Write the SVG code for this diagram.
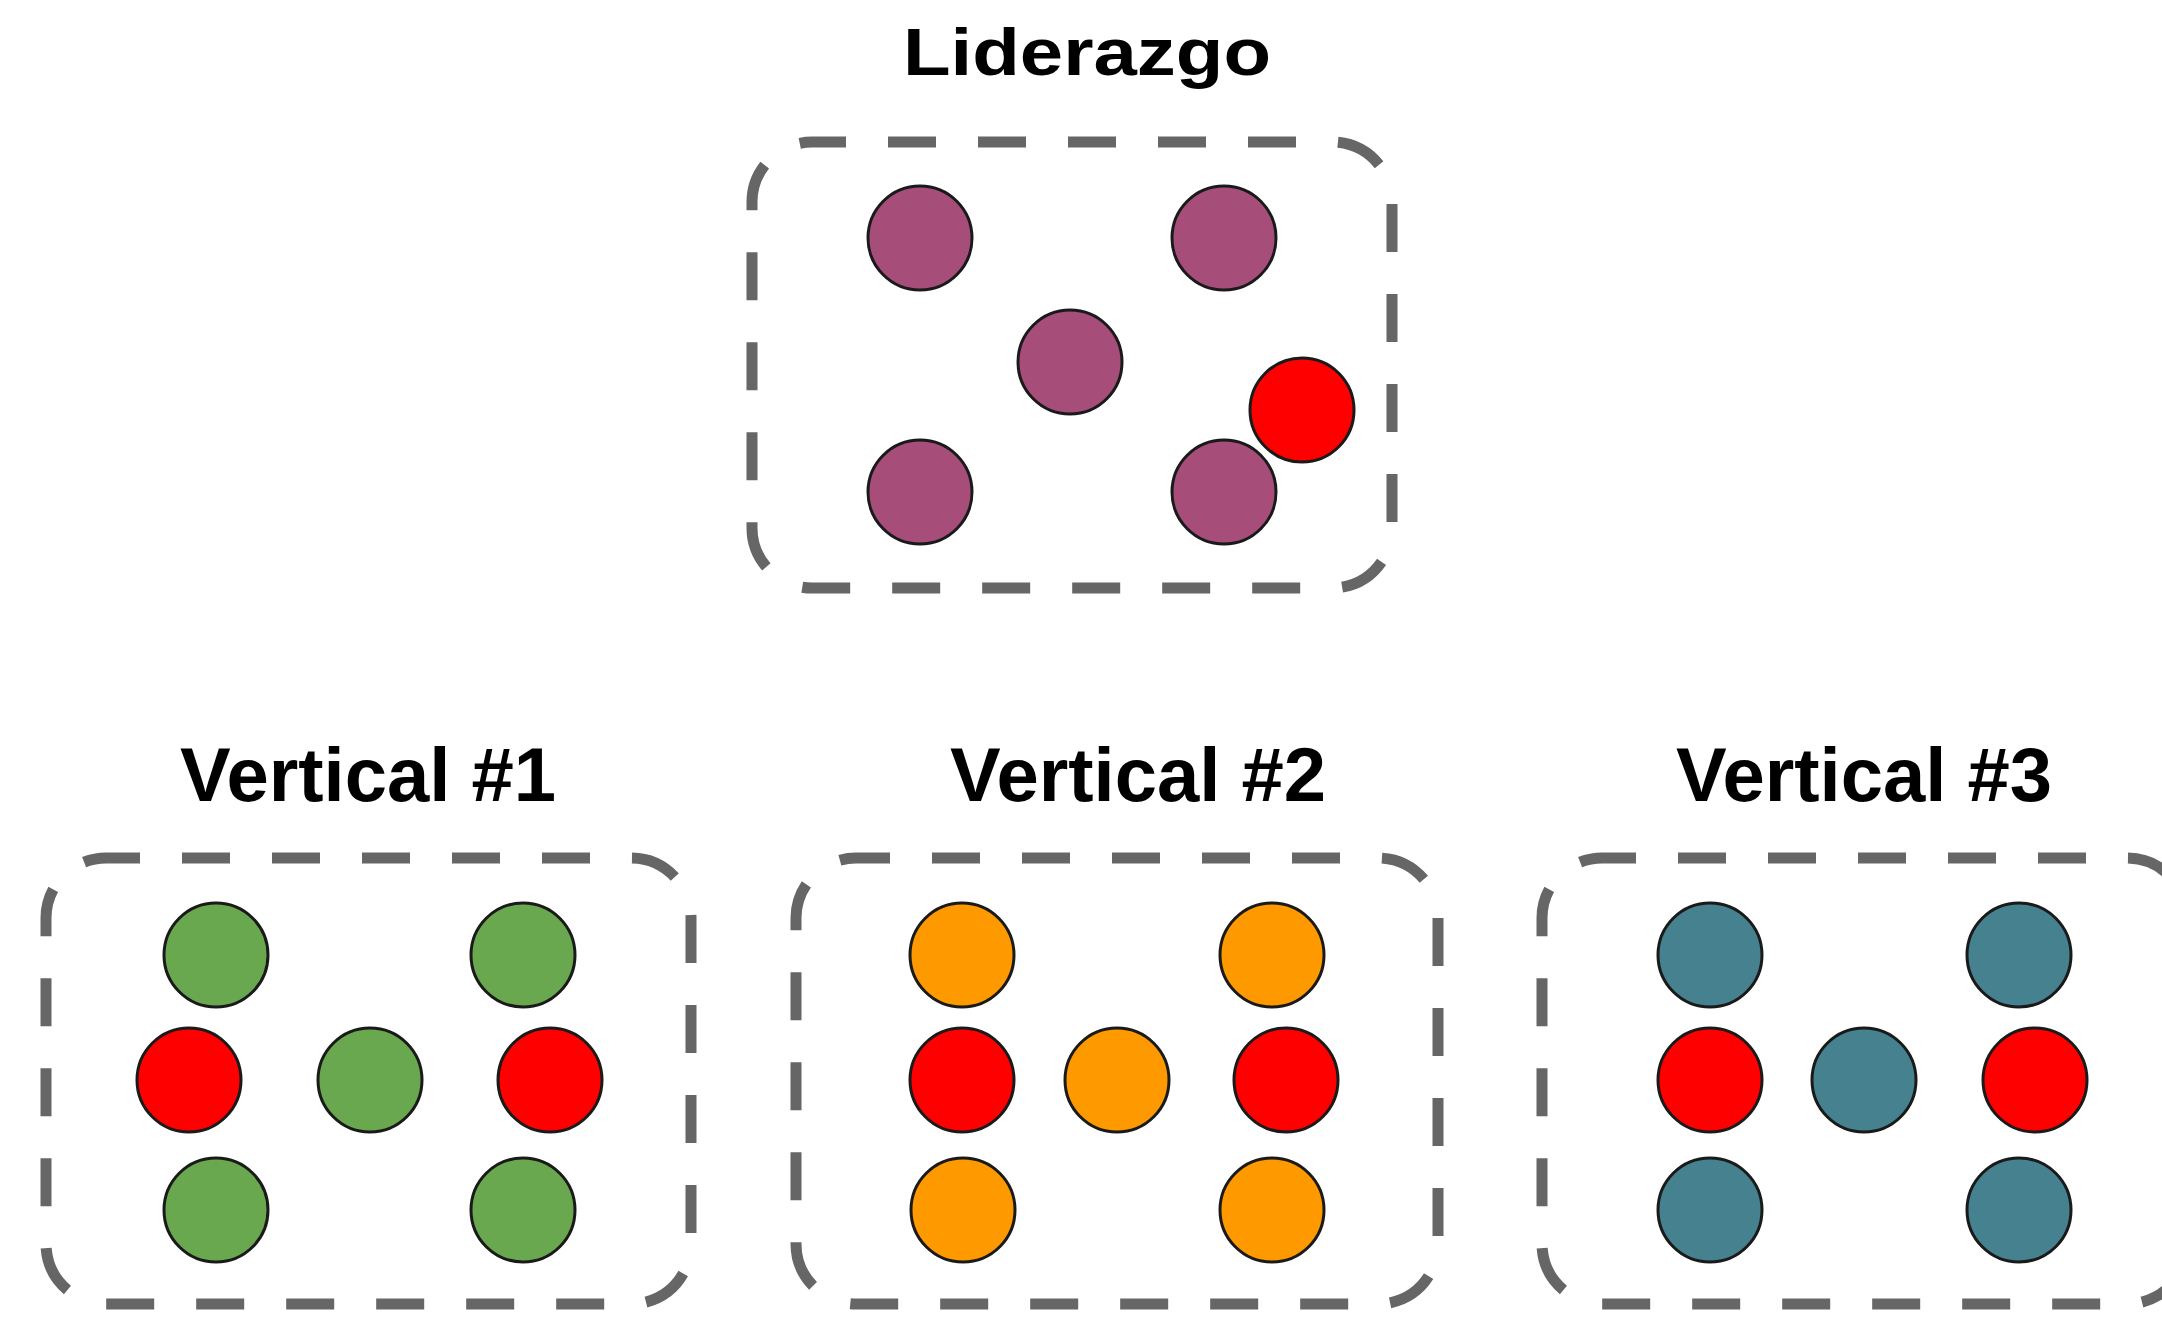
<svg xmlns="http://www.w3.org/2000/svg" width="2162" height="1320" viewBox="0 0 2162 1320">
  <style>
    .title { font-family: "Liberation Sans", Arial, sans-serif; font-weight: bold; fill: #000; text-anchor: middle; }
    .box { fill: none; stroke: #666666; stroke-width: 11; stroke-dasharray: 48 42; stroke-dashoffset: 14; }
    .dot { stroke: #1a1a1a; stroke-width: 3; }
    .purple { fill: #a64d79; }
    .green { fill: #6aa84f; }
    .orange { fill: #ff9900; }
    .teal { fill: #45818e; }
    .red { fill: #ff0000; }
  </style>
  <rect width="2162" height="1320" fill="#ffffff"/>
  <g id="connectors"></g>

  <g id="liderazgo">
    <text class="title" x="1087" y="75" font-size="67" textLength="368" lengthAdjust="spacingAndGlyphs">Liderazgo</text>
    <rect class="box" x="752" y="142" width="640" height="446" rx="60" ry="60"/>
    <circle class="dot purple" cx="920" cy="238" r="52"/>
    <circle class="dot purple" cx="1224" cy="238" r="52"/>
    <circle class="dot purple" cx="1070" cy="362" r="52"/>
    <circle class="dot purple" cx="920" cy="492" r="52"/>
    <circle class="dot purple" cx="1224" cy="492" r="52"/>
    <circle class="dot red" cx="1302" cy="410" r="52"/>
  </g>

  <g id="vertical1">
    <text class="title" x="368" y="801" font-size="76">Vertical #1</text>
    <rect class="box" x="46" y="858" width="645" height="446" rx="60" ry="60"/>
    <circle class="dot green" cx="216" cy="955" r="52"/>
    <circle class="dot green" cx="523" cy="955" r="52"/>
    <circle class="dot red" cx="189" cy="1080" r="52"/>
    <circle class="dot green" cx="370" cy="1080" r="52"/>
    <circle class="dot red" cx="550" cy="1080" r="52"/>
    <circle class="dot green" cx="216" cy="1210" r="52"/>
    <circle class="dot green" cx="523" cy="1210" r="52"/>
  </g>

  <g id="vertical2">
    <text class="title" x="1138" y="801" font-size="76">Vertical #2</text>
    <rect class="box" x="796" y="858" width="642" height="446" rx="60" ry="60"/>
    <circle class="dot orange" cx="962" cy="955" r="52"/>
    <circle class="dot orange" cx="1272" cy="955" r="52"/>
    <circle class="dot red" cx="962" cy="1080" r="52"/>
    <circle class="dot orange" cx="1117" cy="1080" r="52"/>
    <circle class="dot red" cx="1286" cy="1080" r="52"/>
    <circle class="dot orange" cx="963" cy="1210" r="52"/>
    <circle class="dot orange" cx="1272" cy="1210" r="52"/>
  </g>

  <g id="vertical3">
    <text class="title" x="1864" y="801" font-size="76">Vertical #3</text>
    <rect class="box" x="1542" y="858" width="645" height="446" rx="60" ry="60"/>
    <circle class="dot teal" cx="1710" cy="955" r="52"/>
    <circle class="dot teal" cx="2019" cy="955" r="52"/>
    <circle class="dot red" cx="1710" cy="1080" r="52"/>
    <circle class="dot teal" cx="1864" cy="1080" r="52"/>
    <circle class="dot red" cx="2035" cy="1080" r="52"/>
    <circle class="dot teal" cx="1710" cy="1210" r="52"/>
    <circle class="dot teal" cx="2019" cy="1210" r="52"/>
  </g>
</svg>
